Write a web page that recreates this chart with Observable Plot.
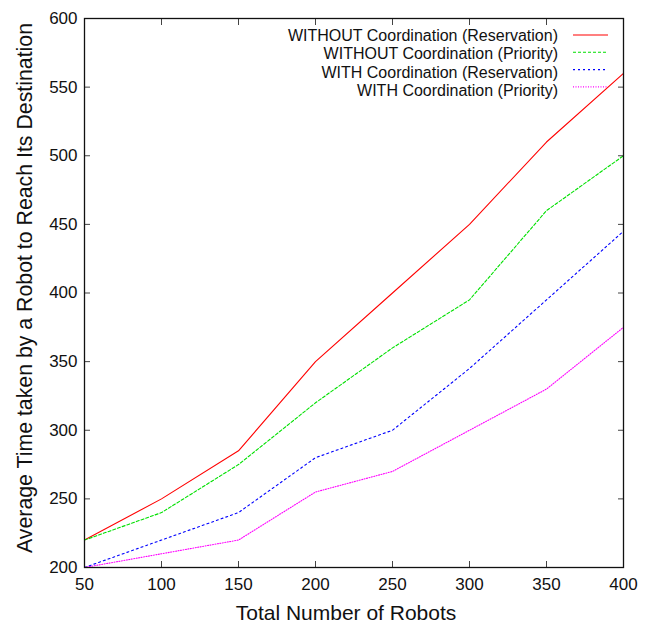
<!DOCTYPE html>
<html>
<head>
<meta charset="utf-8">
<script src="https://cdn.jsdelivr.net/npm/d3@7"></script>
<script src="https://cdn.jsdelivr.net/npm/@observablehq/plot@0.6"></script>
<style>
  html, body { margin: 0; padding: 0; background: #fff; }
  #chart { width: 653px; height: 626px; }
</style>
</head>
<body>
<div id="chart"></div>
<script>
// Number of robots on the x axis
const robots = [50, 100, 150, 200, 250, 300, 350, 400];

// Average time for each strategy
const withoutReservation = [220, 250, 285, 350, 400, 450, 510, 560];
const withoutPriority    = [220, 240, 275, 320, 360, 395, 460, 500];
const withReservation    = [200, 220, 240, 280, 300, 345, 395, 445];
const withPriority       = [200, 210, 220, 255, 270, 300, 330, 375];

const seriesNames = [
  "WITHOUT Coordination (Reservation)",
  "WITHOUT Coordination (Priority)",
  "WITH Coordination (Reservation)",
  "WITH Coordination (Priority)"
];
const seriesValues = [withoutReservation, withoutPriority, withReservation, withPriority];
const seriesColors = ["#ff0000", "#00e000", "#0000ff", "#ff00ff"];
const seriesDashes = [null, "3,2", "2,3", "1,1.5"];

const xTicks = [50, 100, 150, 200, 250, 300, 350, 400];
const yTicks = [200, 250, 300, 350, 400, 450, 500, 550, 600];

const xTitle = "Total Number of Robots";
const yTitle = "Average Time taken by a Robot to Reach Its Destination";

const rows = seriesNames.flatMap((name, s) =>
  robots.map((n, i) => ({series: s, name, robots: n, time: seriesValues[s][i]}))
);

const font = "'Liberation Sans', Arial, Helvetica, sans-serif";

const lineMarks = seriesNames.map((name, s) =>
  Plot.line(rows.filter(d => d.series === s), {
    x: "robots", y: "time",
    stroke: seriesColors[s], strokeWidth: 1.1,
    strokeDasharray: seriesDashes[s]
  })
);

const plot = Plot.plot({
  width: 653,
  height: 626,
  marginLeft: 84,
  marginRight: 30,
  marginTop: 18,
  marginBottom: 59,
  style: {fontFamily: font, fontSize: "17px", color: "#111", background: "#fff"},
  x: {domain: [50, 400]},
  y: {domain: [200, 600]},
  marks: [
    ...lineMarks,
    // inward ticks on all four sides
    Plot.axisX(xTicks, {anchor: "bottom", tickSize: -6, fill: "none", label: null, stroke: "#444"}),
    Plot.axisX(xTicks, {anchor: "top", tickSize: -6, fill: "none", label: null, stroke: "#444"}),
    Plot.axisY(yTicks, {anchor: "left", tickSize: -6, fill: "none", label: null, stroke: "#444"}),
    Plot.axisY(yTicks, {anchor: "right", tickSize: -6, fill: "none", label: null, stroke: "#444"}),
    // tick labels
    Plot.axisX(xTicks, {anchor: "bottom", tickSize: 0, tickPadding: 10, label: null, fontSize: 17, fill: "#111"}),
    Plot.axisY(yTicks, {anchor: "left", tickSize: 0, tickPadding: 7, label: null, fontSize: 17, fill: "#111"}),
    Plot.frame({stroke: "#111", strokeWidth: 1.3}),
    // axis titles
    Plot.text([xTitle], {
      frameAnchor: "bottom", text: d => d, textAnchor: "middle", lineAnchor: "middle",
      dx: -8, dy: 46, fontSize: 21, fill: "#111"
    }),
    Plot.text([yTitle], {
      frameAnchor: "left", text: d => d, textAnchor: "middle", lineAnchor: "middle",
      rotate: -90, dx: -59, dy: -5, fontSize: 21.3, fill: "#111"
    })
  ]
});

document.getElementById("chart").appendChild(plot);

// Key in the upper right corner of the plot area
const xRange = plot.scale("x").range;
const yRange = plot.scale("y").range;
const frameRight = Math.max(...xRange);
const frameTop = Math.min(...yRange);
const key = d3.select(plot).append("g").attr("font-family", font).attr("font-size", 16);
seriesNames.forEach((name, s) => {
  const textY = frameTop + 17.3 + s * 18.5;
  const lineY = frameTop + 17 + s * 17.3;
  key.append("text")
    .attr("x", frameRight - 65)
    .attr("y", textY)
    .attr("dy", "0.35em")
    .attr("text-anchor", "end")
    .attr("fill", "#111")
    .text(name);
  key.append("line")
    .attr("x1", frameRight - 50)
    .attr("x2", frameRight - 15)
    .attr("y1", lineY)
    .attr("y2", lineY)
    .attr("stroke", seriesColors[s])
    .attr("stroke-width", 1.1)
    .attr("stroke-dasharray", seriesDashes[s]);
});
</script>
</body>
</html>
